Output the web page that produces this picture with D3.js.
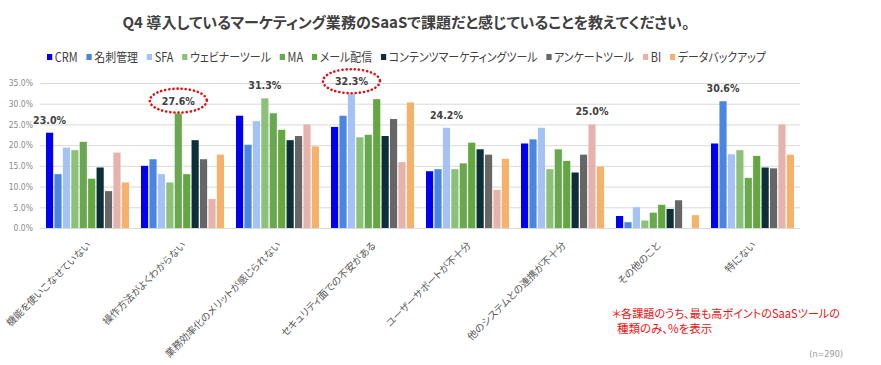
<!DOCTYPE html>
<html><head><meta charset="utf-8">
<script src="https://cdn.jsdelivr.net/npm/d3@7"></script>
<style>
body{margin:0;background:#fff;}
text{font-feature-settings:"palt";}
</style></head>
<body><svg id="c" width="881" height="365"></svg>
<script>
const title = "Q4 導入しているマーケティング業務のSaaSで課題だと感じていることを教えてください。";
const categories = ["機能を使いこなせていない","操作方法がよくわからない","業務効率化のメリットが感じられない","セキュリティ面での不安がある","ユーザーサポートが不十分","他のシステムとの連携が不十分","その他のこと","特にない"];
const series = ["CRM","名刺管理","SFA","ウェビナーツール","MA","メール配信","コンテンツマーケティングツール","アンケートツール","BI","データバックアップ"];
const colors = ["#0000ee","#4a86e0","#a4c2f4","#8cc17a","#6aa84f","#62a83f","#0c2f38","#666666","#e6b3ac","#f6b26b"];
const vCRM   = [23.0,15.0,27.1,24.4,13.7,20.4,2.9,20.4];
const vMeishi= [13.0,16.6,20.1,27.1,14.2,21.4,1.4,30.6];
const vSFA   = [19.4,13.0,25.8,32.3,24.2,24.2,5.0,17.8];
const vWebinar=[18.8,11.0,31.3,21.9,14.2,14.2,1.8,18.8];
const vMA    = [20.8,27.6,27.7,22.5,15.6,19.0,3.7,12.1];
const vMail  = [11.9,13.0,23.7,31.1,20.6,16.2,5.6,17.4];
const vContent=[14.6,21.2,21.2,22.2,19.0,13.4,4.6,14.6];
const vSurvey= [8.9,16.6,22.2,26.3,17.7,17.7,6.7,14.4];
const vBI    = [18.2,7.0,25.0,15.9,9.2,25.0,0.0,25.0];
const vBackup= [11.0,17.7,19.7,30.3,16.7,14.8,3.1,17.7];
const values = [vCRM,vMeishi,vSFA,vWebinar,vMA,vMail,vContent,vSurvey,vBI,vBackup];
const yTicks = [0,5,10,15,20,25,30,35];
const showLabel = [true,true,true,true,true,true,false,true];
const circled = [false,true,false,true,false,false,false,false];
const note1 = "＊各課題のうち、最も高ポイントのSaaSツールの";
const note2 = "種類のみ、%を表示";
const nText = "(n=290)";

const svg = d3.select("#c");
const JP = "'Noto Sans CJK JP','Noto Sans',sans-serif";
const NUM = "'DejaVu Sans Condensed','DejaVu Sans',sans-serif";

const L=40,R=800,T=83,B=228;
const x0 = d3.scaleBand().domain(categories).range([L,R]).paddingInner(0.1).paddingOuter(0.05);
const x1 = d3.scaleBand().domain(series).range([0,x0.bandwidth()]).padding(0.15);
const y = d3.scaleLinear().domain([0,35]).range([B,T]);

// title
svg.append("text").attr("x",406).attr("y",28).attr("text-anchor","middle")
  .attr("font-family",JP).attr("font-weight","bold").attr("font-size",15).attr("fill","#404040")
  .attr("textLength",567).attr("lengthAdjust","spacingAndGlyphs").text(title);

// legend
const lg = svg.append("g");
let lx=0;
series.forEach((s,i)=>{
  lg.append("rect").attr("x",lx).attr("y",-3).attr("width",6).attr("height",6).attr("fill",colors[i]);
  const t = lg.append("text").attr("x",lx+9).attr("y",4.5).attr("font-family",JP).attr("font-size",12.5).attr("fill","#404040").text(s);
  lx += 9 + t.node().getComputedTextLength() + 10;
});
const lw = lx-10;
lg.attr("transform",`translate(47,57) scale(${719/lw},1)`);

// grid + y axis
const ax = svg.append("g").attr("transform",`translate(${L},0)`)
  .call(d3.axisLeft(y).tickValues(yTicks).tickSize(-(R-L)).tickFormat(d=>d.toFixed(1)+"%"));
ax.select(".domain").remove();
ax.selectAll(".tick line").attr("stroke","#d9d9d9");
ax.selectAll(".tick text").attr("x",-7).attr("font-family",NUM).attr("font-size",8.5).attr("fill","#8a8a8a");

// bars
const g = svg.append("g");
categories.forEach((c,ci)=>{
  series.forEach((s,si)=>{
    const v = values[si][ci];
    g.append("rect").attr("x",x0(c)+x1(s)).attr("y",y(v)).attr("width",x1.bandwidth()).attr("height",y(0)-y(v)).attr("fill",colors[si]);
  });
});

// data labels
categories.forEach((c,ci)=>{
  if(!showLabel[ci]) return;
  let mi=0; series.forEach((s,si)=>{ if(values[si][ci]>values[mi][ci]) mi=si; });
  const v = values[mi][ci];
  const cx = x0(c)+x1(series[mi])+x1.bandwidth()/2;
  const cy = y(v)-13;
  svg.append("text").attr("x",cx).attr("y",cy+4).attr("text-anchor","middle")
    .attr("font-family",NUM).attr("font-weight","bold").attr("font-size",10.5).attr("fill","#404040")
    .attr("textLength",33).attr("lengthAdjust","spacingAndGlyphs").text(v.toFixed(1)+"%");
  if(circled[ci]){
    svg.append("ellipse").attr("cx",cx).attr("cy",cy).attr("rx",28.5).attr("ry",12)
      .attr("fill","none").attr("stroke","#e01010").attr("stroke-width",2.6)
      .attr("stroke-dasharray","0.1 4").attr("stroke-linecap","round");
  }
});

// category labels
categories.forEach(c=>{
  const cx = x0(c)+x0.bandwidth()/2;
  svg.append("text").attr("transform",`translate(${cx+4},${246}) rotate(-45)`)
    .attr("text-anchor","end").attr("font-family",JP).attr("font-size",10).attr("fill","#595959").text(c);
});

// notes
svg.append("text").attr("x",612).attr("y",318).attr("font-family",JP).attr("font-size",11.5).attr("fill","#ee1111")
  .attr("textLength",228).attr("lengthAdjust","spacingAndGlyphs").text(note1);
svg.append("text").attr("x",617).attr("y",333).attr("font-family",JP).attr("font-size",11.5).attr("fill","#ee1111").text(note2);
svg.append("text").attr("x",843).attr("y",357).attr("text-anchor","end").attr("font-family",NUM).attr("font-size",9).attr("fill","#999").text(nText);
</script></body></html>
